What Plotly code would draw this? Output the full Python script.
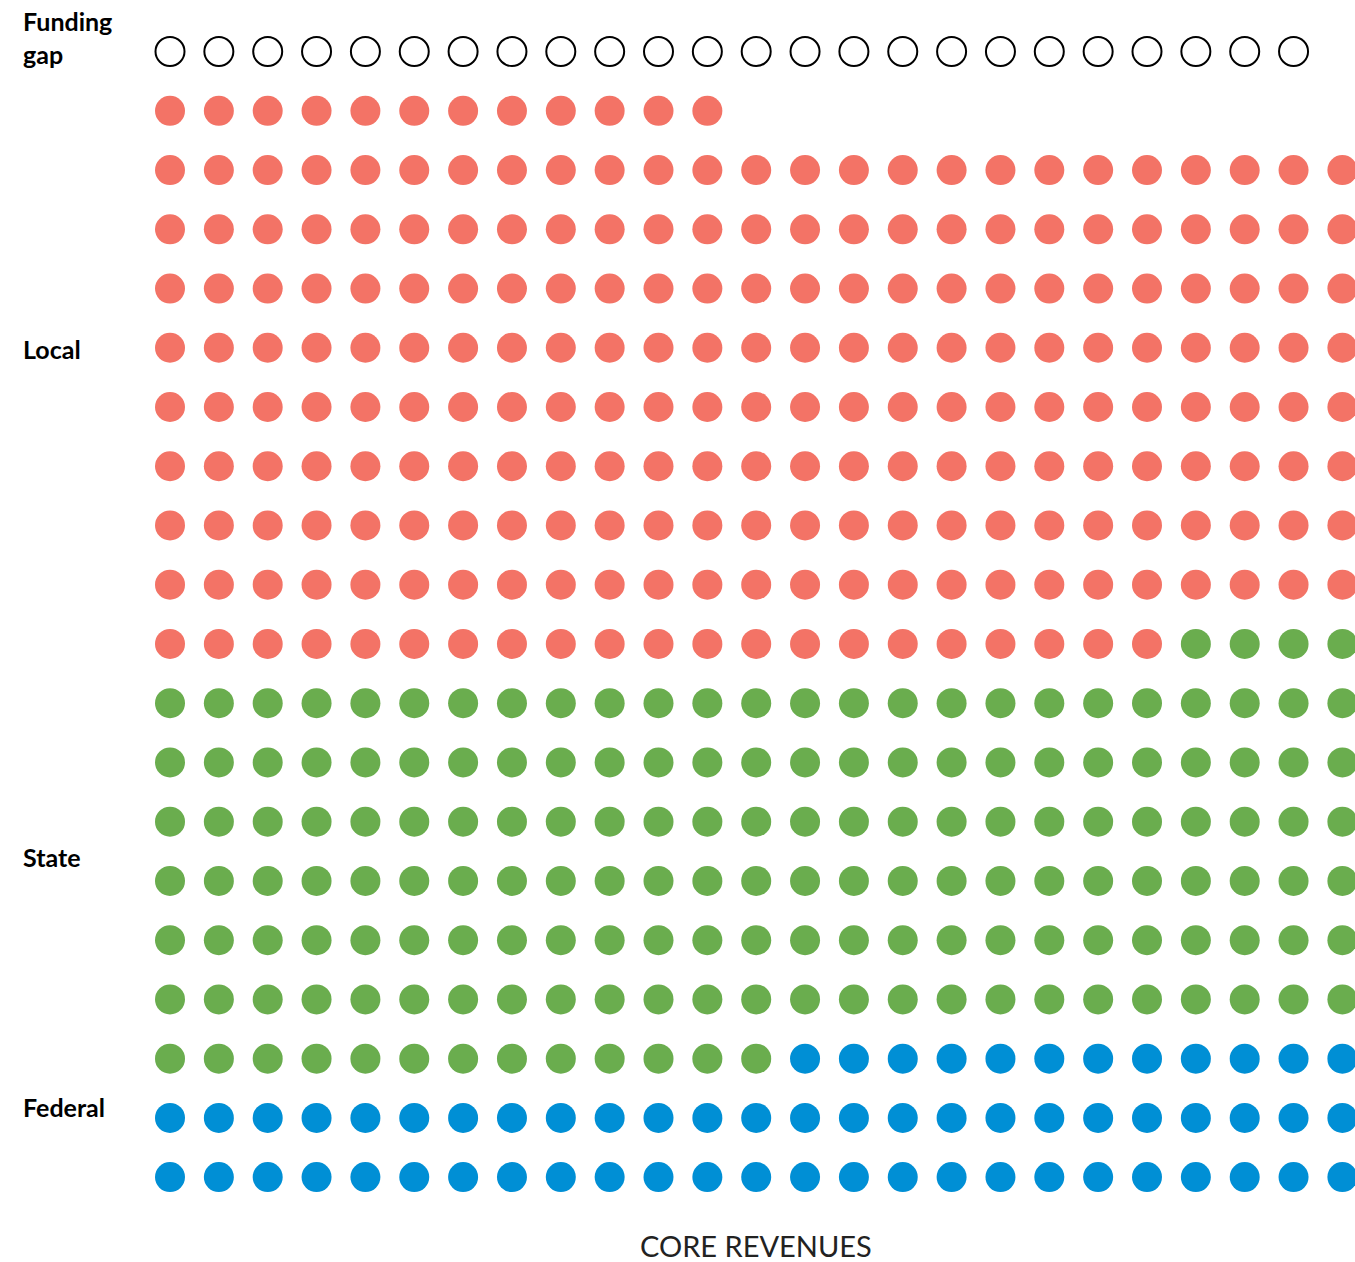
import plotly.graph_objects as go

# Dot counts (one dot per unit, 25 per row)
categories = ["Local", "State", "Federal"]
counts = [233, 167, 62]
colors = ["#F37366", "#6AAD4E", "#008FD5"]
gap_count = 24
per_row = 25

W, H = 1355, 1262
FONT = "Lato, 'Open Sans', sans-serif"

total = sum(counts)
first_row = total % per_row  # top row is partial, left aligned

# reading order: partial top row first, then full rows
xs, ys, cs = [], [], []
k = 0
for cat, n, col in zip(categories, counts, colors):
    for _ in range(n):
        if k < first_row:
            r, c = 0, k
        else:
            r = 1 + (k - first_row) // per_row
            c = (k - first_row) % per_row
        xs.append(c)
        ys.append(r)
        cs.append(col)
        k += 1

fig = go.Figure()
fig.add_trace(go.Scatter(
    x=list(range(gap_count)), y=[-1] * gap_count, mode="markers",
    marker=dict(size=29, color="white", line=dict(color="black", width=2)),
    hoverinfo="skip", showlegend=False,
))
fig.add_trace(go.Scatter(
    x=xs, y=ys, mode="markers",
    marker=dict(size=30, color=cs, line=dict(width=0)),
    hoverinfo="skip", showlegend=False,
))

# pixel mapping: column spacing 48.85px from x=170, row spacing 59.24px
x0, dx = 170, 48.85
y0, dy = 110.8, 59.24
fig.update_xaxes(range=[-x0 / dx, (W - x0) / dx], visible=False)
fig.update_yaxes(range=[(H - y0) / dy, -y0 / dy], visible=False)

labels = [("Funding<br>gap", 37), ("Local", 349), ("State", 857), ("Federal", 1107)]
for txt, py in labels:
    fig.add_annotation(
        text=txt, xref="paper", yref="paper", x=21 / W, y=1 - py / H,
        xanchor="left", yanchor="middle", align="left", showarrow=False,
        font=dict(family=FONT, size=25, color="black", weight="bold"),
    )
fig.add_annotation(
    text="CORE REVENUES", xref="paper", yref="paper", x=756 / W, y=1 - 1245 / H,
    xanchor="center", yanchor="middle", showarrow=False,
    font=dict(family=FONT, size=29, color="#222222"),
)

fig.update_layout(
    width=W, height=H, margin=dict(l=0, r=0, t=0, b=0),
    paper_bgcolor="white", plot_bgcolor="white",
)
# drop the default 8px page margin so the figure fills the window
fig.write_html("out.html", config={"displayModeBar": False},
               post_script="document.body.style.margin='0';")
